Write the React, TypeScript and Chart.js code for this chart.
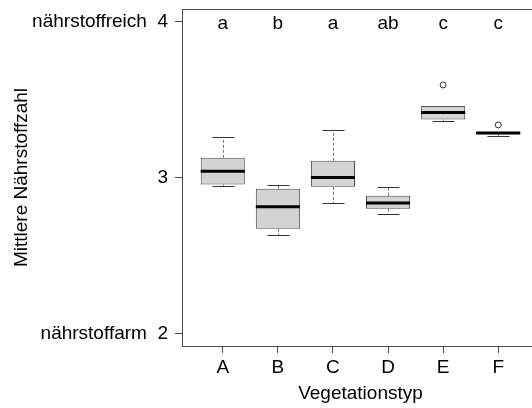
import { useEffect, useRef } from "react";
import { Chart, registerables } from "chart.js";

Chart.register(...registerables);

// Vegetation types and their nutrient-value summaries
const categories = ["A", "B", "C", "D", "E", "F"];
const lowerWhisker = [2.944, 2.629, 2.836, 2.768, 3.363, 3.268];
const firstQuartile = [2.955, 2.672, 2.94, 2.8, 3.371, 3.278];
const medians = [3.04, 2.813, 3.0, 2.836, 3.416, 3.285];
const thirdQuartile = [3.126, 2.928, 3.107, 2.883, 3.459, 3.293];
const upperWhisker = [3.26, 2.951, 3.305, 2.936, 3.459, 3.293];
const outlierGroups = [5, 6];
const outlierValues = [3.593, 3.337];
const groupLetters = ["a", "b", "a", "ab", "c", "c"];
const yTickValues = [2, 3, 4];
const yTickLabels = ["nährstoffarm  2", "3", "nährstoffreich  4"];

const FONT = "'Liberation Sans', Arial, Helvetica, sans-serif";
const LINE = "#4d4d4d";

const boxParts = {
  id: "boxParts",
  beforeDatasetsDraw(chart: any) {
    const { ctx } = chart;
    const xs = chart.scales.x;
    const ys = chart.scales.y;
    const meta = chart.getDatasetMeta(0);
    ctx.save();
    ctx.lineWidth = 1;
    categories.forEach((_, i) => {
      const bw = meta.data[i].width;
      const cx = Math.round(xs.getPixelForValue(i + 1)) + 0.5;
      const yLo = ys.getPixelForValue(lowerWhisker[i]);
      const yQ1 = ys.getPixelForValue(firstQuartile[i]);
      const yQ3 = ys.getPixelForValue(thirdQuartile[i]);
      const yHi = ys.getPixelForValue(upperWhisker[i]);
      // dashed whiskers
      ctx.strokeStyle = "#777";
      ctx.setLineDash([3, 2]);
      ctx.beginPath();
      ctx.moveTo(cx, yQ3);
      ctx.lineTo(cx, yHi);
      ctx.moveTo(cx, yQ1);
      ctx.lineTo(cx, yLo);
      ctx.stroke();
      // staples
      ctx.strokeStyle = "#333";
      ctx.setLineDash([]);
      ctx.beginPath();
      const hw = bw / 4;
      const sHi = Math.round(yHi) + 0.5;
      const sLo = Math.round(yLo) + 0.5;
      ctx.moveTo(cx - hw, sHi);
      ctx.lineTo(cx + hw, sHi);
      ctx.moveTo(cx - hw, sLo);
      ctx.lineTo(cx + hw, sLo);
      ctx.stroke();
    });
    ctx.restore();
  },
  afterDatasetsDraw(chart: any) {
    const { ctx, chartArea } = chart;
    const xs = chart.scales.x;
    const ys = chart.scales.y;
    const meta = chart.getDatasetMeta(0);
    ctx.save();
    // medians
    ctx.strokeStyle = "#000";
    ctx.lineWidth = 3;
    categories.forEach((_, i) => {
      const bw = meta.data[i].width;
      const cx = xs.getPixelForValue(i + 1);
      const ym = ys.getPixelForValue(medians[i]);
      ctx.beginPath();
      ctx.moveTo(cx - bw / 2, ym);
      ctx.lineTo(cx + bw / 2, ym);
      ctx.stroke();
    });
    // plot frame
    ctx.strokeStyle = LINE;
    ctx.lineWidth = 1;
    ctx.strokeRect(
      Math.round(chartArea.left) + 0.5,
      Math.round(chartArea.top) + 0.5,
      Math.round(chartArea.right - chartArea.left),
      Math.round(chartArea.bottom - chartArea.top)
    );
    // group letters
    ctx.fillStyle = "#000";
    ctx.font = `19px ${FONT}`;
    ctx.textAlign = "center";
    ctx.textBaseline = "alphabetic";
    const yl = ys.getPixelForValue(4) + 8;
    groupLetters.forEach((t, i) => {
      ctx.fillText(t, xs.getPixelForValue(i + 1), yl);
    });
    ctx.restore();
  },
};

export default function App() {
  const ref = useRef<HTMLCanvasElement | null>(null);

  useEffect(() => {
    if (!ref.current) return;
    const chart = new Chart(ref.current, {
      type: "bar",
      data: {
        datasets: [
          {
            type: "bar",
            data: categories.map((_, i) => ({
              x: i + 1,
              y: [firstQuartile[i], thirdQuartile[i]],
            })) as any,
            backgroundColor: "#d3d3d3",
            borderColor: LINE,
            borderWidth: 1,
            borderSkipped: false,
            barPercentage: 0.8,
            categoryPercentage: 1,
          },
          {
            type: "scatter",
            data: outlierGroups.map((g, i) => ({ x: g, y: outlierValues[i] })),
            pointRadius: 3,
            pointBorderWidth: 1,
            pointBorderColor: "#333",
            pointBackgroundColor: "rgba(0,0,0,0)",
            showLine: false,
          } as any,
        ],
      },
      options: {
        animation: false,
        responsive: false,
        devicePixelRatio: 1,
        layout: { padding: { top: 9, right: 21, left: 0, bottom: 0 } },
        plugins: { legend: { display: false }, tooltip: { enabled: false } },
        scales: {
          x: {
            type: "linear",
            min: 0.26,
            max: 6.74,
            offset: false,
            afterBuildTicks: (s: any) => {
              s.ticks = categories.map((_, i) => ({ value: i + 1 }));
            },
            afterFit: (s: any) => {
              s.height = 62;
              s.paddingLeft = 0;
              s.paddingRight = 0;
            },
            ticks: {
              autoSkip: false,
              maxRotation: 0,
              padding: 3,
              color: "#000",
              font: { family: FONT, size: 19 },
              callback: (v: any) => categories[Number(v) - 1] ?? "",
            },
            grid: {
              display: true,
              offset: false,
              drawOnChartArea: false,
              drawTicks: true,
              tickLength: 7,
              color: LINE,
            },
            border: { display: false },
            title: {
              display: true,
              text: "Vegetationstyp",
              color: "#000",
              font: { family: FONT, size: 19 },
              padding: { top: 0, bottom: 3 },
            },
          },
          y: {
            type: "linear",
            min: 1.92,
            max: 4.08,
            afterBuildTicks: (s: any) => {
              s.ticks = yTickValues.map((v) => ({ value: v }));
            },
            afterFit: (s: any) => {
              s.width = 182;
              s.paddingTop = 0;
              s.paddingBottom = 0;
            },
            ticks: {
              autoSkip: false,
              padding: 7,
              color: "#000",
              font: { family: FONT, size: 19 },
              callback: (v: any) => yTickLabels[yTickValues.indexOf(Number(v))] ?? "",
            },
            grid: {
              display: true,
              drawOnChartArea: false,
              drawTicks: true,
              tickLength: 7,
              color: LINE,
            },
            border: { display: false },
            title: {
              display: true,
              text: "Mittlere Nährstoffzahl",
              color: "#000",
              font: { family: FONT, size: 19 },
              padding: { top: 10, bottom: 0 },
            },
          },
        },
      },
      plugins: [boxParts],
    });
    return () => chart.destroy();
  }, []);

  return (
    <div
      style={{
        position: "fixed",
        left: 0,
        top: 0,
        width: 532,
        height: 408,
        overflow: "hidden",
        background: "#fff",
      }}
    >
      <canvas ref={ref} width={560} height={408} style={{ width: 560, height: 408, display: "block" }} />
    </div>
  );
}
